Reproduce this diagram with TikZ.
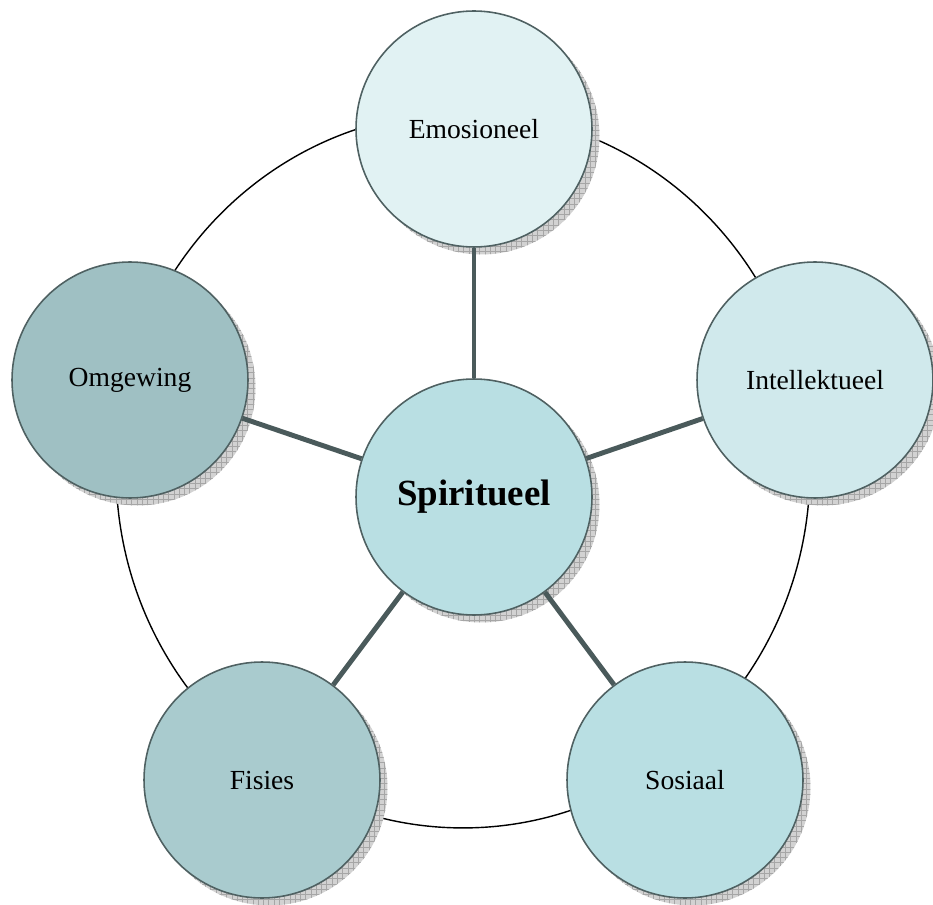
\documentclass[tikz,border=0pt]{standalone}
\usepackage{fontspec}
\setmainfont{Liberation Serif}
\usetikzlibrary{shadows,patterns}

\definecolor{emoFill}{HTML}{E1F2F3}
\definecolor{intFill}{HTML}{D0E9EC}
\definecolor{spiFill}{HTML}{B9DFE3}
\definecolor{fisFill}{HTML}{A9CBCE}
\definecolor{omgFill}{HTML}{9FC0C3}
\definecolor{rimGray}{HTML}{4F6162}
\definecolor{spokeGray}{HTML}{4A5A5B}

\tikzset{
  wheel/.style={circle, draw=rimGray, line width=0.9pt, minimum size=4.72cm,
    inner sep=0pt, font=\fontsize{15.7}{18}\selectfont,
    drop shadow={shadow xshift=0.15cm, shadow yshift=-0.15cm, fill=gray!35, opacity=1},
    drop shadow={shadow xshift=0.15cm, shadow yshift=-0.15cm, pattern=grid,
      pattern color=gray!70, opacity=1}},
  spoke/.style={spokeGray, line width=2.8pt}
}

\begin{document}
\begin{tikzpicture}[x=0.02cm, y=-0.02cm]
  \useasboundingbox (0,0) rectangle (933,905);

  % Outer ring
  \draw[black, line width=0.8pt] (463,470) ellipse [x radius=6.94cm, y radius=7.16cm];

  % Outer circles
  \node[wheel, fill=emoFill] (emo) at (474,129) {Emosioneel};
  \node[wheel, fill=intFill] (intel) at (815,380) {Intellektueel};
  \node[wheel, fill=spiFill] (sos) at (685,780) {Sosiaal};
  \node[wheel, fill=fisFill] (fis) at (262,780) {Fisies};
  \node[wheel, fill=omgFill] (omg) at (130,380) {Omgewing};

  % Centre
  \node[wheel, fill=spiFill, font=\fontsize{21}{24}\selectfont\bfseries] (spi) at (474,497) {Spiritueel};

  % Spokes
  \foreach \n in {emo,intel,sos,fis,omg} {
    \draw[spoke] (spi) -- (\n);
  }
\end{tikzpicture}
\end{document}
